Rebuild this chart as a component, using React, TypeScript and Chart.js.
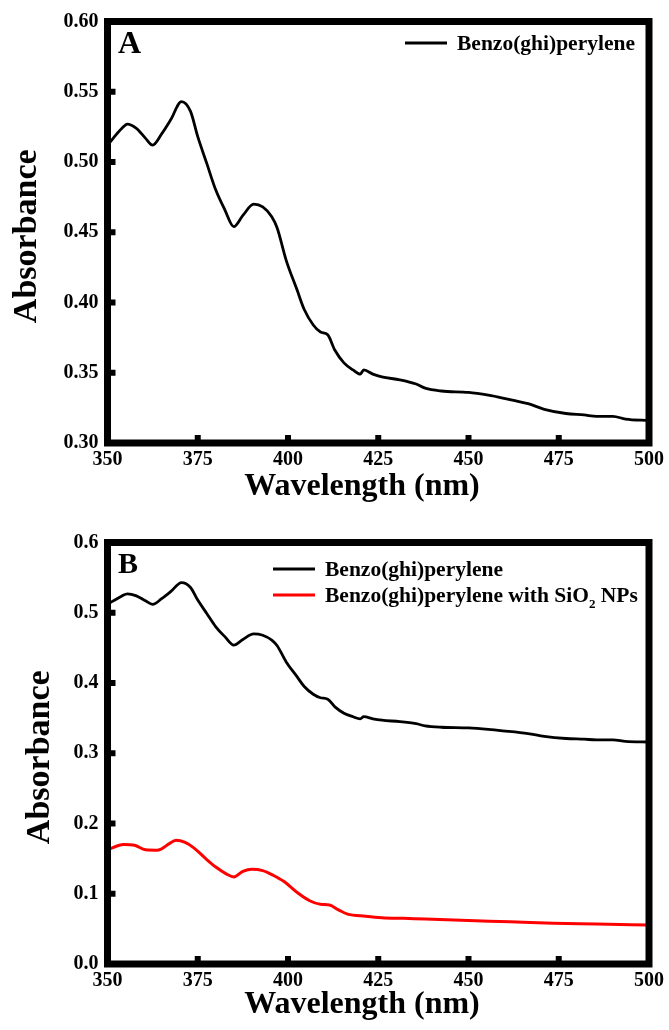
import React, { useEffect, useRef } from "react";
import { Chart, registerables } from "chart.js";

Chart.register(...registerables);

// ---------- data ----------
const wavelengthPure: number[] = [
  350, 354, 355.5, 358, 360.5, 362.5, 365, 367.5, 370.5, 373, 375, 377.5, 380, 382.5, 385, 387.5, 390.5,
  393, 395.5, 397, 399.5, 402.5, 404.5, 407, 409, 411, 413, 415.5, 418, 420, 421, 423.5, 426, 431, 435.5,
  438, 442.5, 450, 455.5, 459.5, 466.5, 471, 477, 482, 485.5, 490, 493.5, 500,
];
const absorbancePure: number[] = [
  0.512, 0.524, 0.527, 0.524, 0.517, 0.512, 0.52, 0.53, 0.543, 0.536, 0.518, 0.499, 0.48, 0.466, 0.454,
  0.462, 0.47, 0.468, 0.461, 0.453, 0.43, 0.409, 0.395, 0.384, 0.379, 0.377, 0.366, 0.357, 0.352, 0.349,
  0.352, 0.349, 0.347, 0.345, 0.342, 0.339, 0.337, 0.336, 0.334, 0.332, 0.328, 0.324, 0.321, 0.32, 0.319,
  0.319, 0.317, 0.316,
];
const wavelengthSiO2: number[] = [
  350, 354.5, 357.5, 360.5, 363.5, 365, 367, 369, 371.5, 374, 377, 380, 383, 385, 387.5, 390, 393, 396,
  399, 402.5, 406, 409, 411.5, 414, 416.5, 421.5, 426, 432, 438, 450, 461.5, 473.5, 485.5, 500,
];
const absorbanceSiO2: number[] = [
  0.1625, 0.17, 0.169, 0.1625, 0.162, 0.164, 0.171, 0.176, 0.173, 0.165, 0.151, 0.138, 0.128, 0.124,
  0.132, 0.135, 0.133, 0.126, 0.117, 0.102, 0.09, 0.085, 0.084, 0.077, 0.071, 0.068, 0.066, 0.065, 0.064,
  0.062, 0.06, 0.058, 0.057, 0.0555,
];

const seriesLabelPure = "Benzo(ghi)perylene";
const seriesLabelSiO2 = "Benzo(ghi)perylene with SiO_2 NPs";
const xTitle = "Wavelength (nm)";
const yTitle = "Absorbance";
const panelLabels = ["A", "B"];
const xRange = [350, 500];
const xStep = 25;
const yRangeA = [0.3, 0.6];
const yStepA = 0.05;
const yRangeB = [0, 0.6];
const yStepB = 0.1;

const FONT = "'Liberation Serif', 'Times New Roman', serif";
const W = 669;
const H = 515;

function drawRich(ctx: CanvasRenderingContext2D, text: string, x: number, y: number, size: number) {
  const parts = text.split(/(_\d+)/);
  for (const p of parts) {
    if (!p) continue;
    if (p.startsWith("_")) {
      const s = p.slice(1);
      ctx.font = `bold ${Math.round(size * 0.62)}px ${FONT}`;
      ctx.fillText(s, x, y + 6.5);
      x += ctx.measureText(s).width;
    } else {
      ctx.font = `bold ${size}px ${FONT}`;
      ctx.fillText(p, x, y);
      x += ctx.measureText(p).width;
    }
  }
}

const decorPlugin = {
  id: "decor",
  afterDatasetsDraw(chart: any, _args: any, opts: any) {
    const { ctx, chartArea: a, scales } = chart;
    ctx.save();
    ctx.fillStyle = "#000";
    // inward tick marks
    const xs = scales.x.ticks.map((t: any) => t.value);
    xs.forEach((v: number, i: number) => {
      if (i === 0 || i === xs.length - 1) return;
      const px = scales.x.getPixelForValue(v);
      ctx.fillRect(px - 3, a.bottom - 8, 6, 8);
    });
    const ys = scales.y.ticks.map((t: any) => t.value);
    ys.forEach((v: number, i: number) => {
      if (i === 0 || i === ys.length - 1) return;
      const py = scales.y.getPixelForValue(v);
      ctx.fillRect(a.left, py - 3, 8, 6);
    });
    // frame
    ctx.lineWidth = 7;
    ctx.strokeStyle = "#000";
    ctx.lineJoin = "miter";
    ctx.strokeRect(a.left, a.top, a.right - a.left, a.bottom - a.top);

    // panel label
    ctx.textBaseline = "alphabetic";
    ctx.textAlign = "left";
    ctx.font = `bold ${opts.labelSize}px ${FONT}`;
    ctx.fillText(opts.panel, a.left + 10.5, a.top + opts.labelDy);

    // legend
    chart.data.datasets.forEach((ds: any, i: number) => {
      const ly = a.top + opts.legendDy + i * 26;
      ctx.strokeStyle = ds.borderColor;
      ctx.lineWidth = 3;
      ctx.lineCap = "butt";
      ctx.beginPath();
      ctx.moveTo(a.left + opts.legendDx, ly);
      ctx.lineTo(a.left + opts.legendDx + 42, ly);
      ctx.stroke();
      ctx.fillStyle = "#000";
      drawRich(ctx, ds.label, a.left + opts.legendDx + 52, ly + 6.5, 21.5);
    });

    // axis titles
    ctx.fillStyle = "#000";
    ctx.font = `bold 32px ${FONT}`;
    ctx.textAlign = "center";
    ctx.textBaseline = "alphabetic";
    ctx.fillText(xTitle, 362, opts.xTitleY);
    ctx.save();
    ctx.translate(opts.yTitleX, (a.top + a.bottom) / 2 + 4);
    ctx.rotate(-Math.PI / 2);
    ctx.font = `bold 34px ${FONT}`;
    ctx.fillText(yTitle, 0, 0);
    ctx.restore();
    ctx.restore();
  },
};

function makeOptions(p: {
  top: number;
  xHeight: number;
  yMin: number;
  yMax: number;
  yStep: number;
  digits: number;
  decor: any;
}) {
  const tickFont = { family: FONT, size: 20, weight: "bold" as const };
  return {
    animation: false as const,
    responsive: false,
    devicePixelRatio: 1,
    layout: { padding: { left: 0, top: p.top, right: W - 651, bottom: 0 } },
    plugins: {
      legend: { display: false },
      tooltip: { enabled: false },
      decor: p.decor,
    },
    elements: { point: { radius: 0 } },
    scales: {
      x: {
        type: "linear" as const,
        min: xRange[0],
        max: xRange[1],
        grid: { display: false, drawTicks: false },
        border: { display: false },
        ticks: {
          stepSize: xStep,
          autoSkip: false,
          maxRotation: 0,
          color: "#000",
          font: tickFont,
          padding: 5,
        },
        afterFit: (s: any) => {
          s.height = p.xHeight;
        },
      },
      y: {
        type: "linear" as const,
        min: p.yMin,
        max: p.yMax,
        grid: { display: false, drawTicks: false },
        border: { display: false },
        ticks: {
          stepSize: p.yStep,
          color: "#000",
          font: tickFont,
          padding: 9,
          callback: (v: any) => Number(v).toFixed(p.digits),
        },
        afterFit: (s: any) => {
          s.width = 107.5;
        },
      },
    },
  };
}

function toPoints(xs: number[], ys: number[]) {
  return xs.map((x, i) => ({ x, y: ys[i] }));
}

function Panel({ which }: { which: number }) {
  const ref = useRef<HTMLCanvasElement | null>(null);
  useEffect(() => {
    if (!ref.current) return;
    const pure = {
      label: seriesLabelPure,
      data: toPoints(wavelengthPure, absorbancePure),
      borderColor: "#000000",
      borderWidth: 2.8,
      cubicInterpolationMode: "monotone" as const,
      pointRadius: 0,
    };
    const silica = {
      label: seriesLabelSiO2,
      data: toPoints(wavelengthSiO2, absorbanceSiO2),
      borderColor: "#ff0000",
      borderWidth: 3,
      cubicInterpolationMode: "monotone" as const,
      pointRadius: 0,
    };
    const cfg: any =
      which === 0
        ? {
            type: "line",
            data: { datasets: [pure] },
            options: makeOptions({
              top: 21.5,
              xHeight: H - 443,
              yMin: yRangeA[0],
              yMax: yRangeA[1],
              yStep: yStepA,
              digits: 2,
              decor: {
                panel: panelLabels[0],
                labelSize: 32,
                labelDy: 31.5,
                legendDx: 297.5,
                legendDy: 21.5,
                xTitleY: 495,
                yTitleX: 36,
              },
            }),
            plugins: [decorPlugin],
          }
        : {
            type: "line",
            data: { datasets: [pure, silica] },
            options: makeOptions({
              top: 27.5,
              xHeight: H - 449,
              yMin: yRangeB[0],
              yMax: yRangeB[1],
              yStep: yStepB,
              digits: 1,
              decor: {
                panel: panelLabels[1],
                labelSize: 30,
                labelDy: 30.5,
                legendDx: 165.5,
                legendDy: 26.5,
                xTitleY: 498,
                yTitleX: 49,
              },
            }),
            plugins: [decorPlugin],
          };
    const chart = new Chart(ref.current, cfg);
    return () => chart.destroy();
  }, [which]);
  return (
    <div style={{ position: "absolute", left: 0, top: which * H, width: W, height: H }}>
      <canvas ref={ref} width={W} height={H} style={{ display: "block", width: W, height: H }} />
    </div>
  );
}

export default function App() {
  return (
    <div style={{ position: "absolute", left: 0, top: 0, width: W, height: 1030, background: "#fff" }}>
      <Panel which={0} />
      <Panel which={1} />
    </div>
  );
}
